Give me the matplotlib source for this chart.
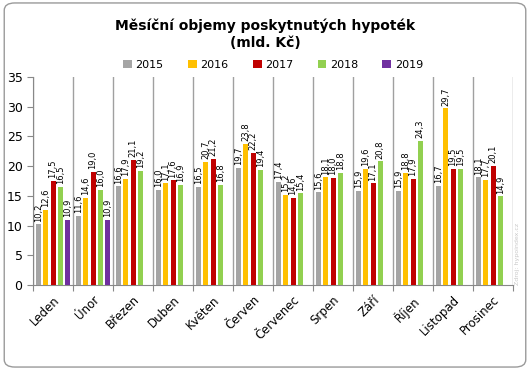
import numpy as np
import matplotlib.pyplot as plt
from matplotlib.patches import FancyBboxPatch

# Monthly mortgage volumes (bn CZK)
months = ['Leden', 'Únor', 'Březen', 'Duben', 'Květen', 'Červen',
          'Červenec', 'Srpen', 'Září', 'Říjen', 'Listopad', 'Prosinec']
years = ['2015', '2016', '2017', '2018', '2019']
v2015 = [10.2, 11.6, 16.6, 16.0, 16.5, 19.7, 17.4, 15.6, 15.9, 15.9, 16.7, 18.1]
v2016 = [12.6, 14.6, 17.9, 17.1, 20.7, 23.8, 15.2, 18.1, 19.6, 18.8, 29.7, 17.7]
v2017 = [17.5, 19.0, 21.1, 17.6, 21.2, 22.2, 14.6, 18.0, 17.1, 17.9, 19.5, 20.1]
v2018 = [16.5, 16.0, 19.2, 16.9, 16.8, 19.4, 15.4, 18.8, 20.8, 24.3, 19.5, 14.9]
v2019 = [10.9, 10.9]
series = [v2015, v2016, v2017, v2018, v2019]
colors = ['#A5A5A5', '#FFC000', '#C00000', '#92D050', '#7030A0']

fig = plt.figure(figsize=(5.3, 3.7), dpi=100)
ax = fig.add_axes([33 / 530, 1 - 285 / 370, 480 / 530, 208 / 370])

pitch = 0.183
width = 0.125
x = np.arange(len(months))
for i, (vals, col, yr) in enumerate(zip(series, colors, years)):
    pos = x[:len(vals)] + 0.5 + (i - 2) * pitch
    bars = ax.bar(pos, vals, width=width, color=col, label=yr, zorder=3)
    for b, v in zip(bars, vals):
        ax.annotate(f'{v:.1f}'.replace('.', ','),
                    (b.get_x() + b.get_width() / 2, v),
                    xytext=(0, 2), textcoords='offset points',
                    rotation=90, ha='center', va='bottom', fontsize=6)

ax.set_xlim(0, 12)
ax.set_ylim(0, 35)
ax.set_yticks(range(0, 36, 5))
ax.tick_params(axis='y', labelsize=9, length=4, color='#888888')

ax.set_xticks(range(13))
ax.set_xticklabels([])
ax.set_xticks(x + 0.5, minor=True)
ax.set_xticklabels(months, minor=True, rotation=45, ha='right',
                   rotation_mode='anchor', fontsize=8.5)
ax.tick_params(axis='x', which='major', length=4, color='#888888')
ax.tick_params(axis='x', which='minor', length=0, pad=6)
ax.grid(axis='x', which='major', color='#A0A0A0', linewidth=1, zorder=0)

for side in ['top', 'right']:
    ax.spines[side].set_visible(False)
for side in ['left', 'bottom']:
    ax.spines[side].set_color('#888888')

fig.text(0.5, 0.908, 'Měsíční objemy poskytnutých hypoték\n(mld. Kč)',
         ha='center', va='center', fontsize=10, fontweight='bold',
         linespacing=1.25)
ax.legend(loc='lower center', bbox_to_anchor=(0.5, 1.035), ncol=5,
          frameon=False, fontsize=8, handlelength=0.8, handleheight=0.8,
          columnspacing=2.2, handletextpad=0.3, borderaxespad=0,
          borderpad=0)

fig.text(0.977, 0.23, 'Zdroj: hypoindex.cz', rotation=90, fontsize=4.5,
         color='#C8C8C8', ha='center', va='bottom')

fig.patches.append(FancyBboxPatch((0.008, 0.008), 0.984, 0.984,
                                  boxstyle='round,pad=0,rounding_size=0.02',
                                  transform=fig.transFigure, fill=False,
                                  edgecolor='#9A9A9A', linewidth=1))

fig.savefig('out.png', dpi=100)
